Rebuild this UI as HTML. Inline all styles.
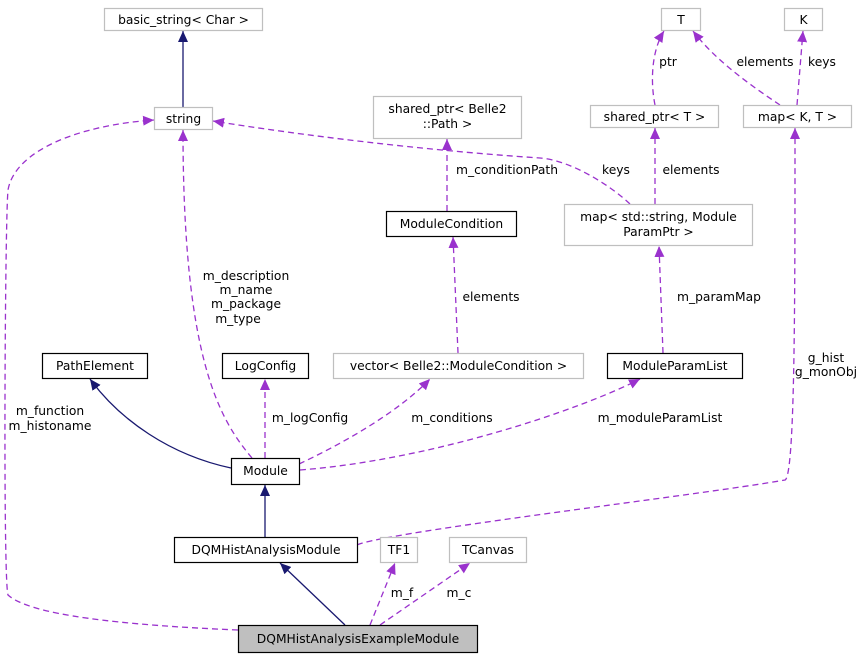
<!DOCTYPE html>
<html><head><meta charset="utf-8"><style>body{margin:0;background:#fff}svg{display:block}text{font-family:"DejaVu Sans","Liberation Sans",sans-serif;font-size:12.3px;fill:#000}</style></head><body>
<svg width="867" height="659" viewBox="0 0 867 659" xmlns="http://www.w3.org/2000/svg">
<defs>
<marker id="n" markerWidth="12" markerHeight="10" refX="11" refY="5" orient="auto" markerUnits="userSpaceOnUse"><path d="M0,0L11,5L0,10z" fill="#191970"/></marker>
<marker id="p" markerWidth="12" markerHeight="10" refX="11" refY="5" orient="auto" markerUnits="userSpaceOnUse"><path d="M0,0L11,5L0,10z" fill="#9a32cd"/></marker>
</defs>
<g fill="none" stroke-width="1.3">
<g stroke="#191970" marker-end="url(#n)">
<path d="M183,107L183,31"/>
<path d="M231,468C170,455 120,420 90,379"/>
<path d="M265,537L265,485"/>
<path d="M345,625L280,563"/>
</g>
<g stroke="#9a32cd" stroke-dasharray="6,4" marker-end="url(#p)">
<path d="M238,630C120,625 30,615 8,595C3,580 5,220 8,190C15,150 80,125 154,120"/>
<path d="M252,458C220,420 183,360 183,130"/>
<path d="M630,204C610,185 570,160 540,158C420,150 300,135 213,121"/>
<path d="M447,211L447,139"/>
<path d="M655,105C650,80 652,50 664,31"/>
<path d="M780,105C750,85 715,60 693,31"/>
<path d="M797,105L803,31"/>
<path d="M655,204L655,128"/>
<path d="M458,353L453,237"/>
<path d="M663,353L659,246"/>
<path d="M357,545C385,532 700,495 785,480C795,476 795,300 795,128"/>
<path d="M265,458L265,379"/>
<path d="M299,464C350,440 400,410 430,379"/>
<path d="M300,470C430,460 580,410 640,379"/>
<path d="M370,625L395,563"/>
<path d="M380,625L470,563"/>
</g>
</g>
<g stroke-width="1.2">
<rect x="104.5" y="8.5" width="158" height="22" fill="#fff" stroke="#bfbfbf"/>
<rect x="154.5" y="107.5" width="58" height="22" fill="#fff" stroke="#bfbfbf"/>
<rect x="373.5" y="96.5" width="148" height="42" fill="#fff" stroke="#bfbfbf"/>
<rect x="661.5" y="8.5" width="39" height="22" fill="#fff" stroke="#bfbfbf"/>
<rect x="784.5" y="8.5" width="38" height="22" fill="#fff" stroke="#bfbfbf"/>
<rect x="590.5" y="105.5" width="128" height="22" fill="#fff" stroke="#bfbfbf"/>
<rect x="743.5" y="105.5" width="108" height="22" fill="#fff" stroke="#bfbfbf"/>
<rect x="386.5" y="211.5" width="130" height="25" fill="#fff" stroke="#000"/>
<rect x="564.5" y="204.5" width="188" height="41" fill="#fff" stroke="#bfbfbf"/>
<rect x="42.5" y="353.5" width="105" height="25" fill="#fff" stroke="#000"/>
<rect x="222.5" y="353.5" width="86" height="25" fill="#fff" stroke="#000"/>
<rect x="333.5" y="353.5" width="250" height="25" fill="#fff" stroke="#bfbfbf"/>
<rect x="607.5" y="353.5" width="135" height="25" fill="#fff" stroke="#000"/>
<rect x="231.5" y="458.5" width="68" height="26" fill="#fff" stroke="#000"/>
<rect x="174.5" y="537.5" width="183" height="25" fill="#fff" stroke="#000"/>
<rect x="380.5" y="537.5" width="37" height="25" fill="#fff" stroke="#bfbfbf"/>
<rect x="449.5" y="537.5" width="77" height="25" fill="#fff" stroke="#bfbfbf"/>
<rect x="238.5" y="625.5" width="239" height="27" fill="#bfbfbf" stroke="#000"/>
</g>
<g text-anchor="middle">
<text x="183.5" y="24">basic_string&lt; Char &gt;</text>
<text x="183.5" y="123">string</text>
<text x="447.5" y="113">shared_ptr&lt; Belle2</text>
<text x="447.5" y="128">::Path &gt;</text>
<text x="681" y="24">T</text>
<text x="803.5" y="24">K</text>
<text x="654.5" y="121">shared_ptr&lt; T &gt;</text>
<text x="797.5" y="121">map&lt; K, T &gt;</text>
<text x="451.5" y="228">ModuleCondition</text>
<text x="658.5" y="221">map&lt; std::string, Module</text>
<text x="658.5" y="236">ParamPtr &gt;</text>
<text x="95" y="370">PathElement</text>
<text x="265.5" y="370">LogConfig</text>
<text x="458.5" y="370">vector&lt; Belle2::ModuleCondition &gt;</text>
<text x="675" y="370">ModuleParamList</text>
<text x="265.5" y="475">Module</text>
<text x="266" y="554">DQMHistAnalysisModule</text>
<text x="399" y="554">TF1</text>
<text x="488" y="554">TCanvas</text>
<text x="358" y="643">DQMHistAnalysisExampleModule</text>
<text x="50" y="415">m_function</text>
<text x="50" y="430">m_histoname</text>
<text x="246" y="280">m_description</text>
<text x="246" y="294">m_name</text>
<text x="246" y="308">m_package</text>
<text x="238" y="323">m_type</text>
<text x="616" y="174">keys</text>
<text x="507" y="174">m_conditionPath</text>
<text x="668" y="66">ptr</text>
<text x="765" y="66">elements</text>
<text x="822" y="66">keys</text>
<text x="691" y="174">elements</text>
<text x="491" y="301">elements</text>
<text x="719" y="301">m_paramMap</text>
<text x="826" y="362">g_hist</text>
<text x="826" y="376">g_monObj</text>
<text x="310" y="422">m_logConfig</text>
<text x="452" y="422">m_conditions</text>
<text x="660" y="422">m_moduleParamList</text>
<text x="402" y="597">m_f</text>
<text x="459" y="597">m_c</text>
</g>
</svg>
</body></html>
